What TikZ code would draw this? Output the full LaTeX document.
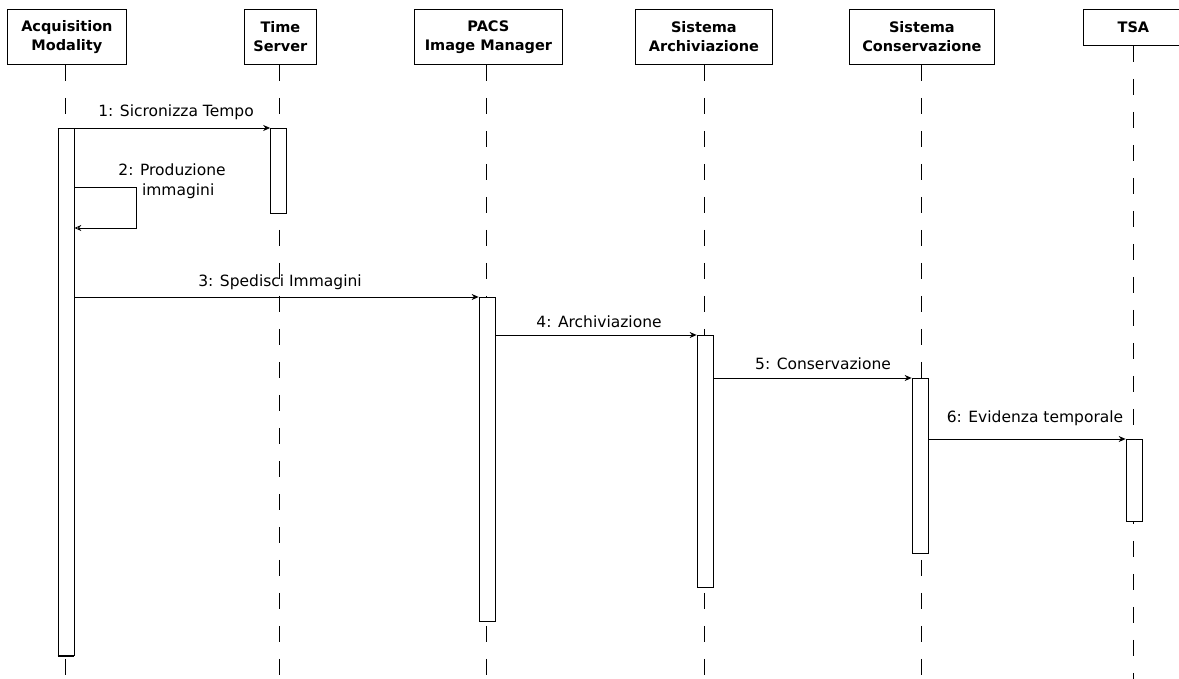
\documentclass[tikz,border=0pt]{standalone}
\usepackage{fontspec}
\setmainfont{DejaVu Sans}
\usetikzlibrary{arrows.meta}
\begin{document}
\begin{tikzpicture}[x=1pt,y=-1pt,
  lane/.style={draw=black, line width=0.8pt, fill=white, align=center,
    font=\bfseries\fontsize{14.5}{19}\selectfont, inner sep=0pt, anchor=north west},
  life/.style={line width=0.8pt, dash pattern=on 16pt off 17pt},
  bar/.style={draw=black, line width=0.7pt, fill=white, minimum width=16pt,
    inner sep=0pt, anchor=north},
  msg/.style={line width=0.8pt, -{Stealth[length=7pt,width=6pt]}},
  lbl/.style={font=\fontsize{15.5}{20}\selectfont, inner sep=1pt, anchor=south, align=center}]
\useasboundingbox (0,0) rectangle (1179,679);
\clip (0,0) rectangle (1179,679);

% participants
\node[lane, minimum width=119pt, minimum height=55pt] (am) at (7,9) {Acquisition\\Modality};
\node[lane, minimum width=72pt, minimum height=55pt] (ts) at (244,9) {Time\\Server};
\node[lane, minimum width=148pt, minimum height=55pt] (pacs) at (414,9) {PACS\\Image Manager};
\node[lane, minimum width=137pt, minimum height=55pt] (sa) at (635,9) {Sistema\\Archiviazione};
\node[lane, minimum width=145pt, minimum height=55pt] (sc) at (849,9) {Sistema\\Conservazione};
\node[lane, minimum width=100pt, minimum height=36pt] (tsa) at (1083,9) {TSA};

% lifelines
\coordinate (amE) at (65,679);
\coordinate (tsE) at (279,679);
\coordinate (pacsE) at (486,679);
\coordinate (saE) at (704,679);
\coordinate (scE) at (921,679);
\coordinate (tsaE) at (1133,679);
\draw[life] (am.south -| amE) -- (amE);
\draw[life] (ts.south -| tsE) -- (tsE);
\draw[life] (pacs.south -| pacsE) -- (pacsE);
\draw[life] (sa.south -| saE) -- (saE);
\draw[life] (sc.south -| scE) -- (scE);
\draw[life] (tsa.south -| tsaE) -- (tsaE);

% activation bars
\node[bar, minimum height=527pt] (aAM) at (66,128) {};
\node[bar, minimum height=85pt] (aTS) at (278.5,128) {};
\node[bar, minimum height=324pt] (aPACS) at (487,297) {};
\node[bar, minimum height=252pt] (aSA) at (705,335) {};
\node[bar, minimum height=175pt] (aSC) at (920,378) {};
\node[bar, minimum height=82pt] (aTSA) at (1134,439) {};
\draw[line width=2pt] (aAM.south west) -- (aAM.south east);

% messages
\draw[msg] (aAM.north west) -- (aTS.north west);
\node[lbl] at (176,121) {1: Sicronizza Tempo};

\coordinate (selfA) at (136,187);
\coordinate (selfB) at (136,228);
\draw[line width=0.8pt, -{Stealth[open,length=7pt,width=6pt]}]
  (aAM.east |- selfA) -- (selfA) -- (selfB) -- (aAM.east |- selfB);
\node[lbl, anchor=north] at (172,163) {2: Produzione\\\hspace*{0.8em}immagini};

\draw[msg] (aAM.east |- aPACS.north) -- (aPACS.north west);
\node[lbl] at (280,291) {3: Spedisci Immagini};

\draw[msg] (aPACS.east |- aSA.north) -- (aSA.north west);
\node[lbl] at (599,329) {4: Archiviazione};

\draw[msg] (aSA.east |- aSC.north) -- (aSC.north west);
\node[lbl] at (823,371) {5: Conservazione};

\draw[msg] (aSC.east |- aTSA.north) -- (aTSA.north west);
\node[lbl] at (1035,427) {6: Evidenza temporale};
\end{tikzpicture}
\end{document}
